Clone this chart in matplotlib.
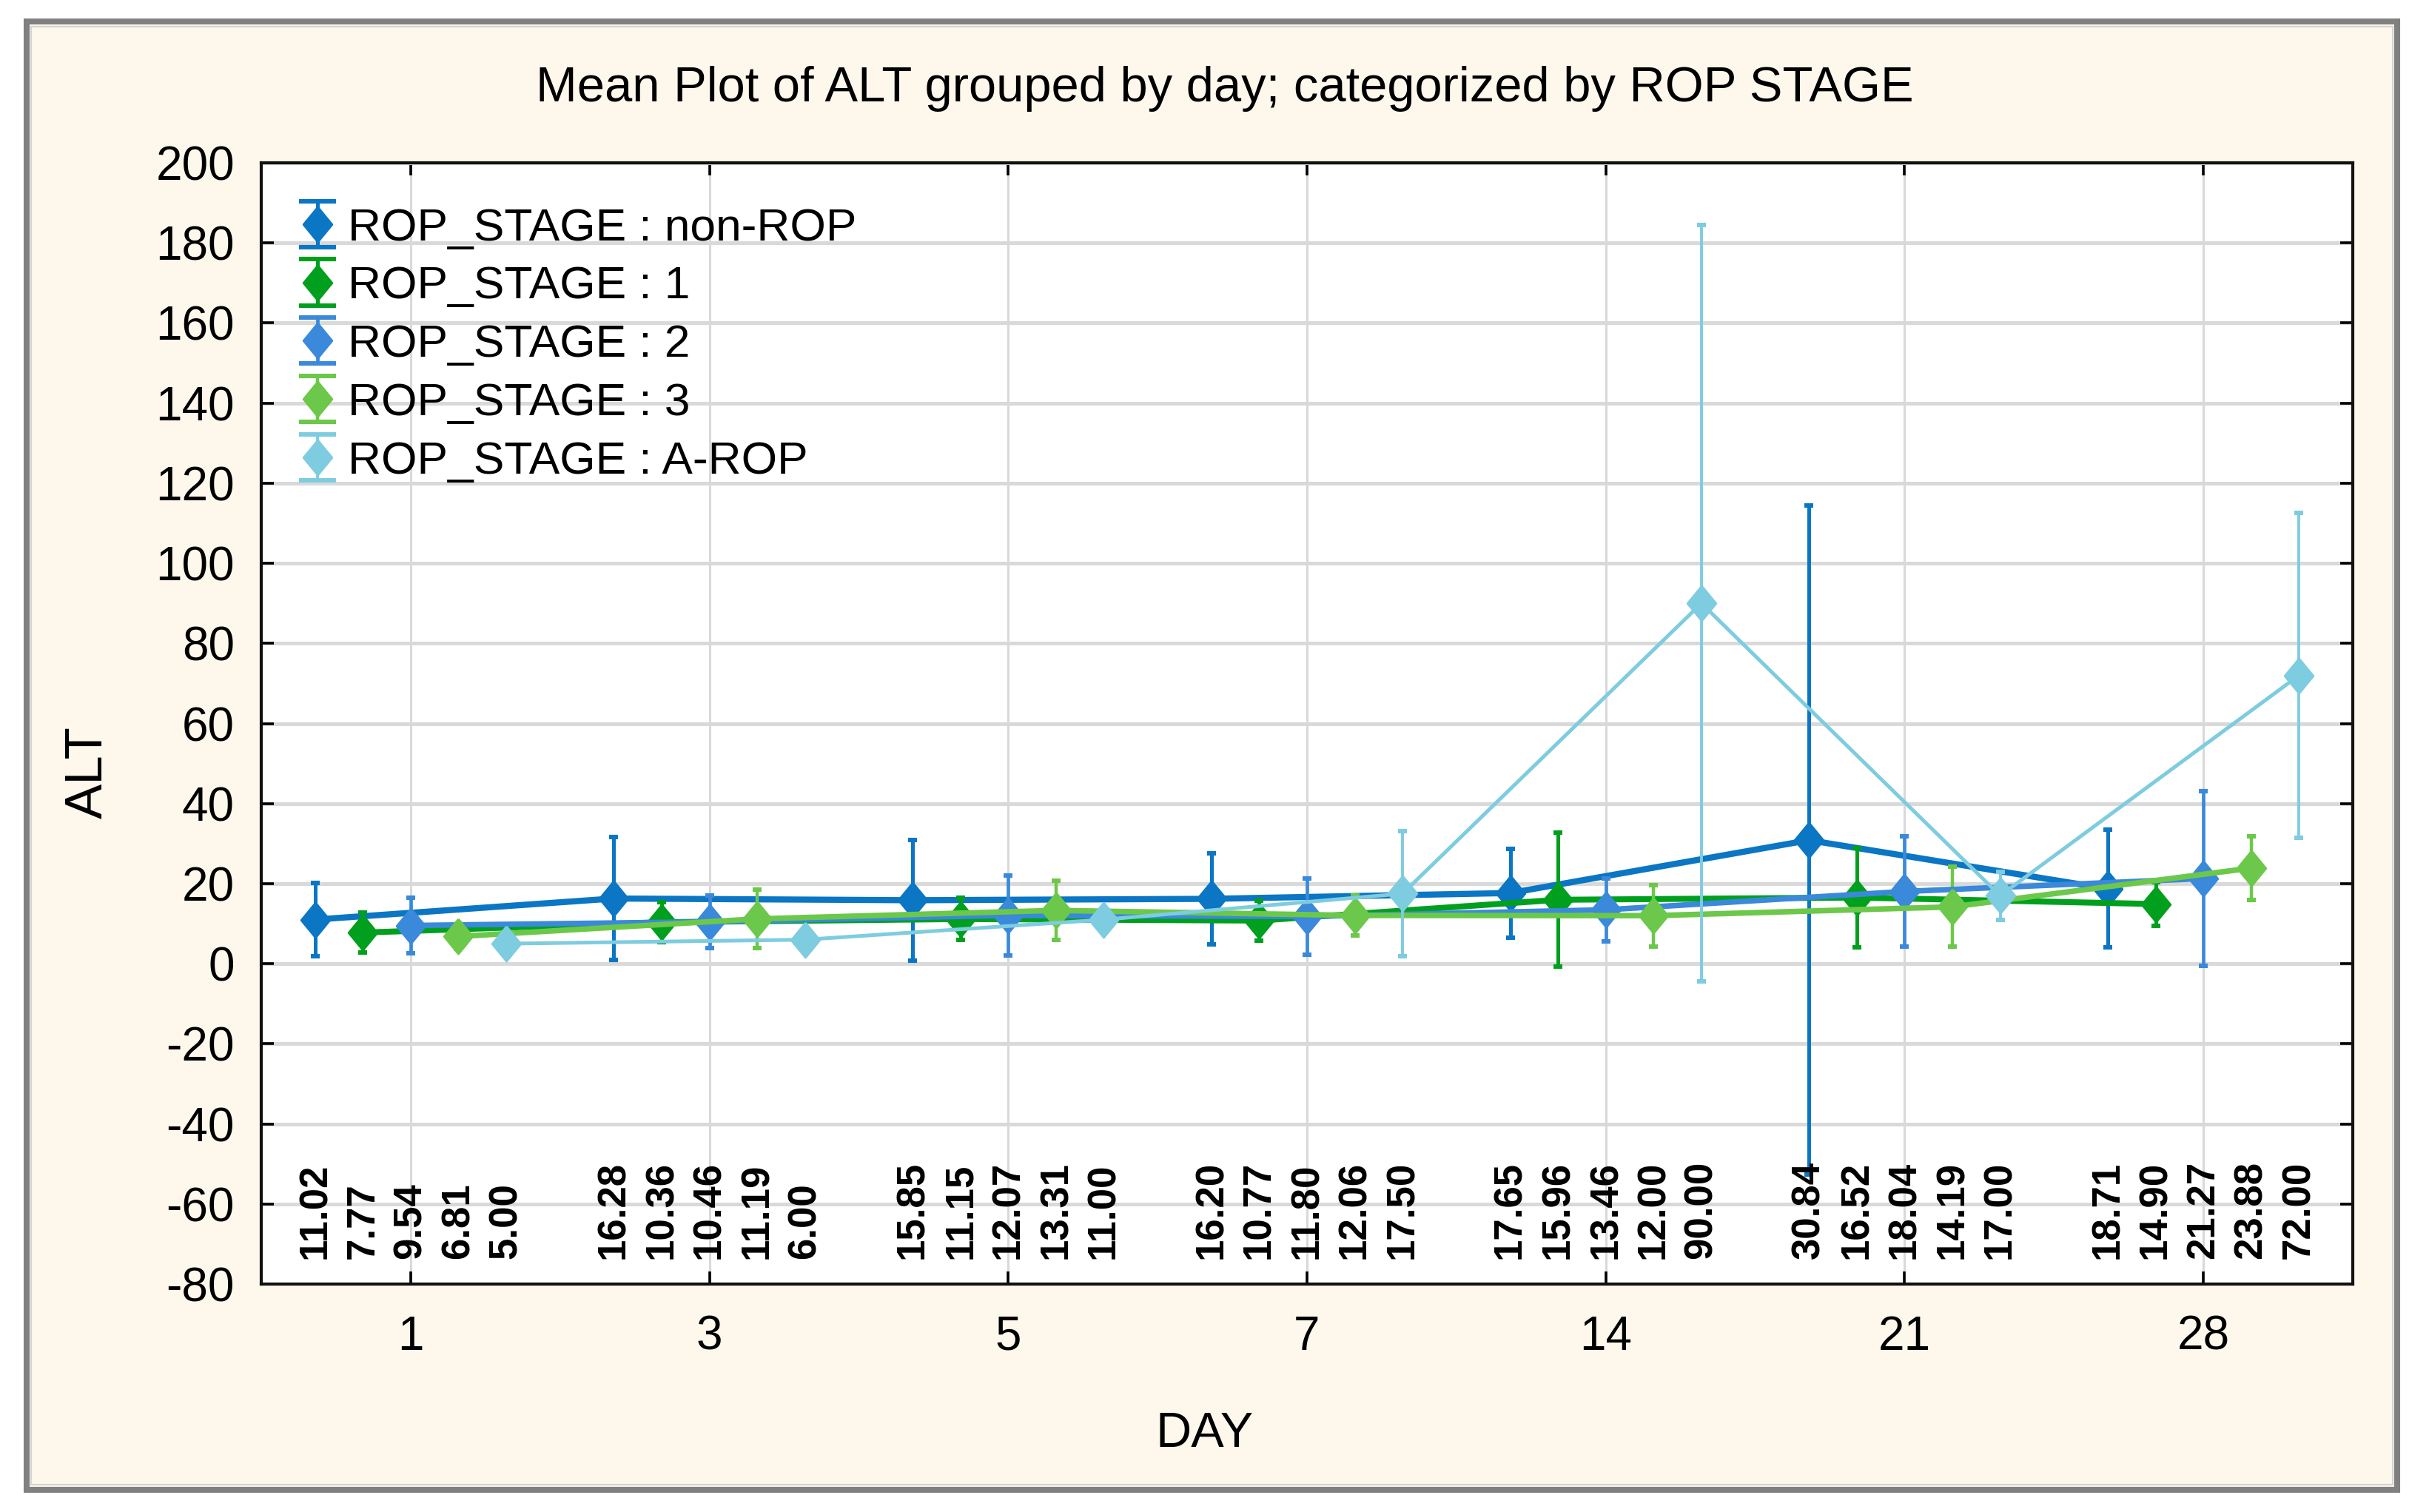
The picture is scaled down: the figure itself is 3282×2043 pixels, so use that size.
import matplotlib
matplotlib.use("Agg")
import matplotlib.pyplot as plt
from matplotlib.patches import Rectangle
from matplotlib.lines import Line2D
from matplotlib.legend_handler import HandlerErrorbar
import numpy as np

plt.rcParams['font.family'] = ['Liberation Sans', 'DejaVu Sans']
plt.rcParams['axes.unicode_minus'] = False

# ---------------- data ----------------
days = ['1', '3', '5', '7', '14', '21', '28']
series_names = ['ROP_STAGE : non-ROP', 'ROP_STAGE : 1', 'ROP_STAGE : 2',
                'ROP_STAGE : 3', 'ROP_STAGE : A-ROP']

mean_non_rop = [11.02, 16.28, 15.85, 16.20, 17.65, 30.84, 18.71]
mean_stage1 = [7.77, 10.36, 11.15, 10.77, 15.96, 16.52, 14.90]
mean_stage2 = [9.54, 10.46, 12.07, 11.80, 13.46, 18.04, 21.27]
mean_stage3 = [6.81, 11.19, 13.31, 12.06, 12.00, 14.19, 23.88]
mean_arop = [5.00, 6.00, 11.00, 17.50, 90.00, 17.00, 72.00]

err_non_rop = [9.1, 15.4, 15.0, 11.4, 11.1, 83.5, 14.7]
err_stage1 = [5.0, 5.0, 5.3, 5.0, 16.7, 12.4, 5.4]
err_stage2 = [7.0, 6.5, 10.0, 9.5, 7.8, 13.8, 21.8]
err_stage3 = [3.0, 7.3, 7.4, 5.0, 7.7, 10.0, 8.0]
err_arop = [0.0, 0.0, 0.0, 15.7, 94.5, 6.0, 40.5]

means = [mean_non_rop, mean_stage1, mean_stage2, mean_stage3, mean_arop]
errs = [err_non_rop, err_stage1, err_stage2, err_stage3, err_arop]

colors = ['#0A76C4', '#00A01E', '#3A89DA', '#6CC84A', '#7ECCDF']
line_w = [3.0, 2.9, 2.7, 2.7, 1.8]
err_w = [1.8, 1.8, 1.7, 1.6, 1.4]

# tall diamond marker
diamond = [(0, 1), (0.82, 0), (0, -1), (-0.82, 0), (0, 1)]

# ---------------- figure ----------------
W, H = 3282, 2043
DPI = 200
fig = plt.figure(figsize=(W / DPI, H / DPI), dpi=DPI, facecolor='white')

# outer frame
fig.patches.append(Rectangle((36 / W, 1 - 2013 / H), (3239 - 36) / W, (2013 - 29) / H,
                             transform=fig.transFigure, facecolor='#FEF8EC',
                             edgecolor='#808080', linewidth=2.9, zorder=-5))
fig.patches.append(Rectangle((42 / W, 1 - 2006 / H), (3233 - 42) / W, (2006 - 36) / H,
                             transform=fig.transFigure, facecolor='none',
                             edgecolor='#D4D4D4', linewidth=0.8, zorder=-4))

left, right, top, bottom = 353, 3179, 220, 1735
ax = fig.add_axes([left / W, 1 - bottom / H, (right - left) / W, (bottom - top) / H])
ax.set_facecolor('white')
ax.set_zorder(1)

x = np.arange(len(days))
offsets = np.array([-2, -1, 0, 1, 2]) * 0.16

containers = []
for i in range(5):
    c = ax.errorbar(x + offsets[i], means[i], yerr=errs[i], color=colors[i],
                    marker=diamond, markersize=17, linewidth=line_w[i],
                    elinewidth=err_w[i], capsize=2.2, capthick=2.2,
                    label=series_names[i], zorder=3 + i * 0.1)
    containers.append(c)
    for xi, m in zip(x + offsets[i], means[i]):
        ax.text(xi, -73.8, f'{m:.2f}', rotation=90, ha='center', va='bottom',
                fontsize=19, fontweight='bold', color='black', zorder=10)

ax.set_xlim(-0.5, 6.5)
ax.set_ylim(-80, 200)
ax.set_xticks(x)
ax.set_xticklabels(days)
ax.set_yticks(np.arange(-80, 201, 20))
ax.yaxis.grid(True, color='#D9D9D9', linewidth=1.8, zorder=0)
ax.xaxis.grid(True, color='#D9D9D9', linewidth=1.1, zorder=0)
ax.set_axisbelow(True)
ax.tick_params(direction='in', top=True, right=True, length=6, width=1.3,
               labelsize=23, colors='black')
ax.tick_params(axis='y', pad=13)
ax.tick_params(axis='x', pad=15)
for s in ax.spines.values():
    s.set_linewidth(1.5)
    s.set_color('#111111')


class ErrHandler(HandlerErrorbar):
    def create_artists(self, *args, **kwargs):
        arts = super().create_artists(*args, **kwargs)
        for a in arts:
            if isinstance(a, Line2D):
                mk = a.get_marker()
                ls = a.get_linestyle()
                if (isinstance(mk, str) and mk.lower() in ('none', '')) and ls not in ('None', '', 'none'):
                    a.set_visible(False)
                elif isinstance(mk, str) and mk in ('_', '|'):
                    a.set_markersize(18)
                    a.set_markeredgewidth(2.2)
        return arts


leg = ax.legend(handles=containers, loc='upper left',
                bbox_to_anchor=(0.0160, 0.960), borderaxespad=0, borderpad=0,
                frameon=False, fontsize=22.4, handlelength=1.0, handletextpad=0.15,
                labelspacing=0.35,
                handler_map={type(containers[0]): ErrHandler(xerr_size=0.5)})

fig.text(1655 / W, 1 - 120 / H, 'Mean Plot of ALT grouped by day; categorized by ROP STAGE',
         ha='center', va='center', fontsize=24.1, color='black')
fig.text(1628 / W, 1 - 1938 / H, 'DAY', ha='center', va='center', fontsize=24, color='black')
fig.text(120 / W, 1 - 1044 / H, 'ALT', ha='center', va='center', rotation=90,
         fontsize=25.5, color='black')

fig.savefig('out.png', dpi=DPI, facecolor=fig.get_facecolor())
